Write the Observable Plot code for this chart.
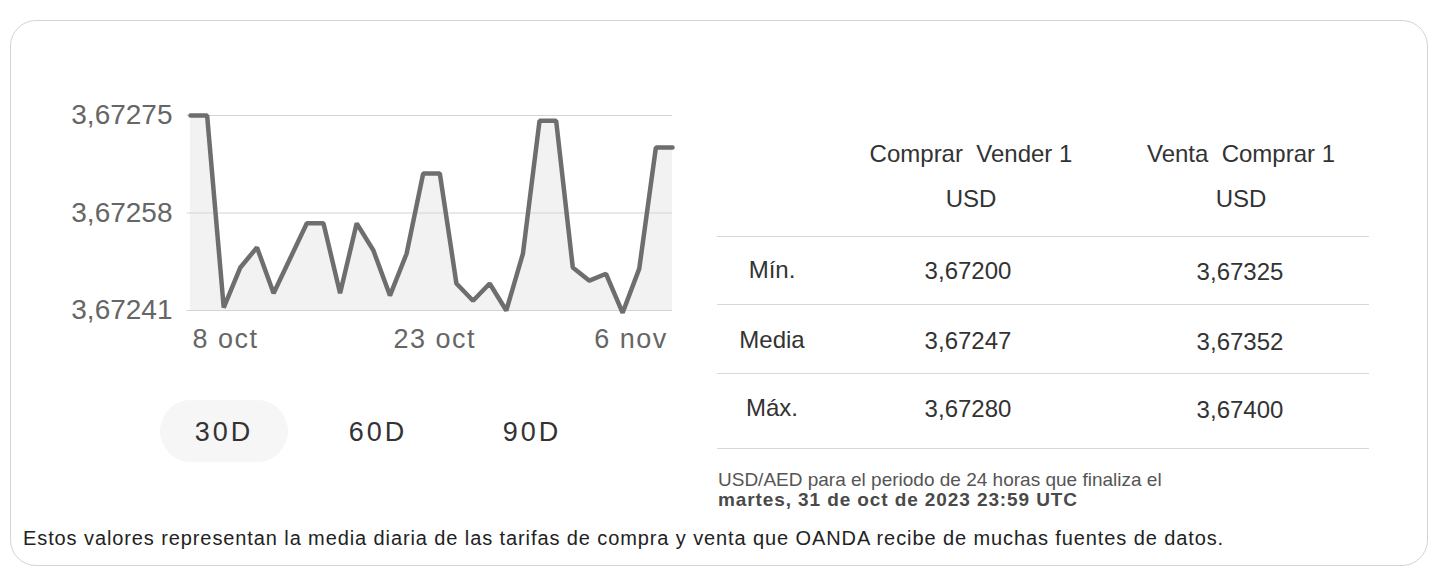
<!DOCTYPE html>
<html><head><meta charset="utf-8">
<script src="https://cdn.jsdelivr.net/npm/d3@7"></script>
<script src="https://cdn.jsdelivr.net/npm/@observablehq/plot@0.6"></script>
<style>
body{margin:0;width:1440px;height:577px;background:#fff;font-family:"Liberation Sans",Arial,sans-serif;position:relative;overflow:hidden}
.card{position:absolute;left:10px;top:20px;width:1418px;height:546px;border:1px solid #d4d4d4;border-radius:26px;box-sizing:border-box}
#chart{position:absolute;left:0;top:90px}
.t{position:absolute;white-space:nowrap;transform:translate(-50%,-50%);color:#333}
.l{position:absolute;white-space:nowrap;transform:translate(0,-50%)}
.sep{position:absolute;left:717px;width:652px;height:0;border-top:1px solid #d8d8d8}
.pill{position:absolute;left:160px;top:400px;width:128px;height:62px;border-radius:31px;background:#f6f6f6}
</style></head>
<body>
<div class="card"></div>
<div class="pill"></div>
<div id="chart"></div>
<div id="ui"></div>
<script>
// Series: USD/AED daily mid rate, last 30 days
const rates = [3.67275,3.67275,3.672415,3.672485,3.67252,3.67244,3.672501,3.672562,3.672562,3.67244,
               3.672562,3.672515,3.672436,3.672509,3.672649,3.672649,3.672457,3.672427,3.672457,3.67241,
               3.672509,3.672741,3.672741,3.672485,3.672462,3.672474,3.672406,3.672483,3.672694,3.672694];
const yTicks = [3.67241, 3.67258, 3.67275];
const yTickLabels = ["3,67241", "3,67258", "3,67275"];
const xTickIdx = [2.1, 14.7, 26.5];
const xTickLabels = ["8 oct", "23 oct", "6 nov"];
const ranges = ["30D", "60D", "90D"];
const colHeads = [["Comprar  Vender 1", "USD"], ["Venta  Comprar 1", "USD"]];
const rowLabels = ["Mín.", "Media", "Máx."];
const buyVals = ["3,67200", "3,67247", "3,67280"];
const sellVals = ["3,67325", "3,67352", "3,67400"];
const noteLines = ["USD/AED para el periodo de 24 horas que finaliza el", "martes, 31 de oct de 2023 23:59 UTC"];
const footer = "Estos valores representan la media diaria de las tarifas de compra y venta que OANDA recibe de muchas fuentes de datos.";

const data = rates.map((v, i) => ({i, v}));
const base = yTicks[0];

const chart = Plot.plot({
  width: 700, height: 290,
  marginLeft: 190, marginRight: 28, marginTop: 25, marginBottom: 70,
  style: {fontFamily: "Liberation Sans, Arial, sans-serif", color: "#666", background: "transparent"},
  x: {domain: [0, rates.length - 1]},
  y: {domain: [yTicks[0], yTicks[2]]},
  marks: [
    Plot.areaY(data, {x: "i", y1: () => base, y2: "v", fill: "#efefef", fillOpacity: 0.8}),
    Plot.ruleY(yTicks, {x1: -0.2, x2: rates.length - 1, stroke: "#d4d4d4", strokeWidth: 1}),
    Plot.line(data, {x: "i", y: "v", stroke: "#6e6e6e", strokeWidth: 4.5, strokeLinejoin: "miter"}),
    Plot.axisY({ticks: yTicks, tickFormat: (d, i) => yTickLabels[i], tickSize: 0, tickPadding: 18, fontSize: 28, label: null}),
    Plot.axisX({ticks: xTickIdx, tickFormat: (d, i) => xTickLabels[i], tickSize: 0, tickPadding: 18, fontSize: 27, letterSpacing: "1.5px", label: null})
  ]
});
chart.querySelectorAll("[aria-label='x-axis tick label'] text").forEach(t => t.style.letterSpacing = "1.5px");
document.getElementById("chart").appendChild(chart);

const ui = document.getElementById("ui");
function add(cls, text, x, y, style) {
  const d = document.createElement("div");
  d.className = cls; d.textContent = text;
  d.style.left = x + "px"; d.style.top = y + "px";
  Object.assign(d.style, style || {});
  ui.appendChild(d);
}
const btnX = [224, 378, 532];
ranges.forEach((r, i) => add("t", r, btnX[i], 432, {fontSize: "27px", letterSpacing: "3px", color: "#333"}));

const colX = [971, 1241];
colHeads.forEach((h, c) => {
  add("t", h[0], colX[c], 154, {fontSize: "24px", whiteSpace: "pre"});
  add("t", h[1], colX[c], 199, {fontSize: "24px"});
});
const rowY = [270, 340, 408];
rowLabels.forEach((r, k) => {
  add("t", r, 772, rowY[k], {fontSize: "24px"});
  add("t", buyVals[k], 968, rowY[k] + 1, {fontSize: "24px"});
  add("t", sellVals[k], 1240, rowY[k] + 2, {fontSize: "24px"});
});
[236, 304, 373, 448].forEach(y => {
  const s = document.createElement("div"); s.className = "sep"; s.style.top = y + "px"; ui.appendChild(s);
});
add("l", noteLines[0], 718, 480, {fontSize: "19px", color: "#555"});
add("l", noteLines[1], 718, 500, {fontSize: "19px", color: "#4a4a4a", fontWeight: "bold", letterSpacing: "0.9px"});
add("l", footer, 23, 538, {fontSize: "20px", color: "#222", letterSpacing: "0.9px"});
</script>
</body></html>
